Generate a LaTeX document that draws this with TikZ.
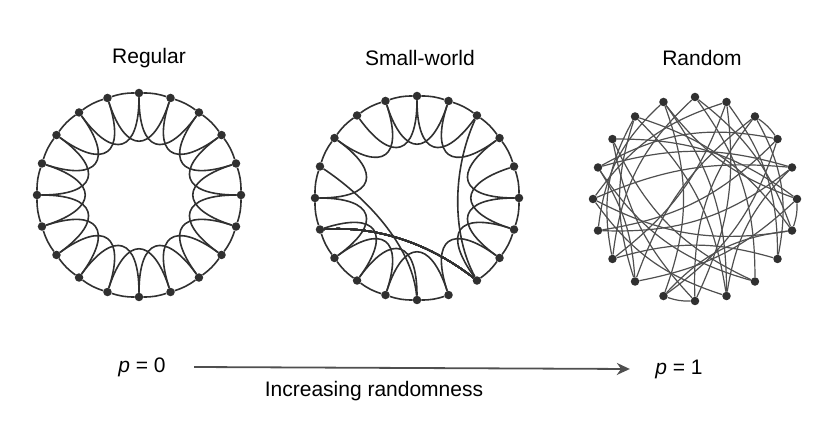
\documentclass[tikz,border=0pt]{standalone}
\usepackage{fontspec}
\setmainfont{Liberation Sans}
\usetikzlibrary{calc,arrows.meta}
\definecolor{ink}{HTML}{303030}
\tikzset{
  vert/.style={circle,fill=ink,inner sep=0pt,minimum size=8.5pt},
  edge/.style={draw=ink,line width=1.6pt},
  redge/.style={draw=ink!85,line width=1.2pt},
  title/.style={font=\fontsize{21}{25}\selectfont},
}
% petal between two ring vertices, bent towards the ring centre
\newcommand\petal[3]{\draw[edge] (#1#2) .. controls ($(#1c)!0.42!(#1#2)$) and ($(#1c)!0.42!(#1#3)$) .. (#1#3);}
\begin{document}
\begin{tikzpicture}[x=1pt,y=1pt]
  \useasboundingbox (0,0) rectangle (827,439);
  \coordinate (rc) at (139,244);
  \coordinate (sc) at (417,241);
  \coordinate (nc) at (695,240);
  \node[title] (treg) at (149,381) {Regular};
  \node[title] (tsw) at (420,381) {Small-world};
  \node[title] (trnd) at (702,381) {Random};
  % vertices
  \foreach \k in {0,...,19}{
    \node[vert] (r\k) at ($(rc)+(90-18*\k:102)$) {};
    \node[vert] (s\k) at ($(sc)+(90-18*\k:102)$) {};
    \node[vert] (n\k) at ($(nc)+(90-18*\k:102)$) {};
  }
  % regular ring
  \foreach \k [evaluate=\k as \j using {int(mod(\k+1,20))},
               evaluate=\k as \m using {int(mod(\k+2,20))}] in {0,...,19}{
    \draw[edge] (r\k) to[bend left=9] (r\j);
    \petal{r}{\k}{\m}
  }
  % small-world ring
  \foreach \k [evaluate=\k as \j using {int(mod(\k+1,20))}] in {0,...,7,9,10,...,19}
    \draw[edge] (s\k) to[bend left=9] (s\j);
  \foreach \k [evaluate=\k as \m using {int(mod(\k+2,20))}] in {0,1,3,4,...,7,9,10,...,13,15,17,18,19}
    \petal{s}{\k}{\m}
  \draw[edge] (s14) .. controls +(60,4) and +(-45,35) .. (s8);
  \draw[edge] (s16) .. controls +(45,-30) and +(-5,55) .. (s10);
  \draw[edge] (s2) .. controls +(-25,-55) and +(-25,46) .. (s8);
  % random graph
  \foreach \a/\b/\c in {0/8/18,0/13/-20,1/10/16,1/15/-18,2/7/20,2/12/-16,
      3/11/18,3/16/-20,4/9/-18,4/14/20,5/12/16,5/17/-18,6/11/-20,6/15/18,
      7/13/-16,8/16/20,9/18/-18,10/17/16,11/19/-20,12/18/18,13/1/-16,14/19/20,
      15/9/-18,16/4/16,17/8/-20,18/6/18,19/5/-16,10/2/20,14/3/-18,0/6/16,
      19/9/18,18/13/-20,2/3/10,5/6/10,10/11/10,7/1/-18,12/16/-14,15/4/14}
    \draw[redge] (n\a) to[bend left=\c] (n\b);
  % axis of randomness
  \node[title] (p0) at (142,72) {\textit{p} = 0};
  \node[title] (p1) at (679,70) {\textit{p} = 1};
  \node[title] (lbl) at (374,48) {Increasing randomness};
  \draw[line width=1.8pt,draw=ink!85,-{Stealth[length=13pt,width=12pt]}]
    ([xshift=25pt]p0.east) -- ([xshift=-22pt]p1.west);
\end{tikzpicture}
\end{document}
